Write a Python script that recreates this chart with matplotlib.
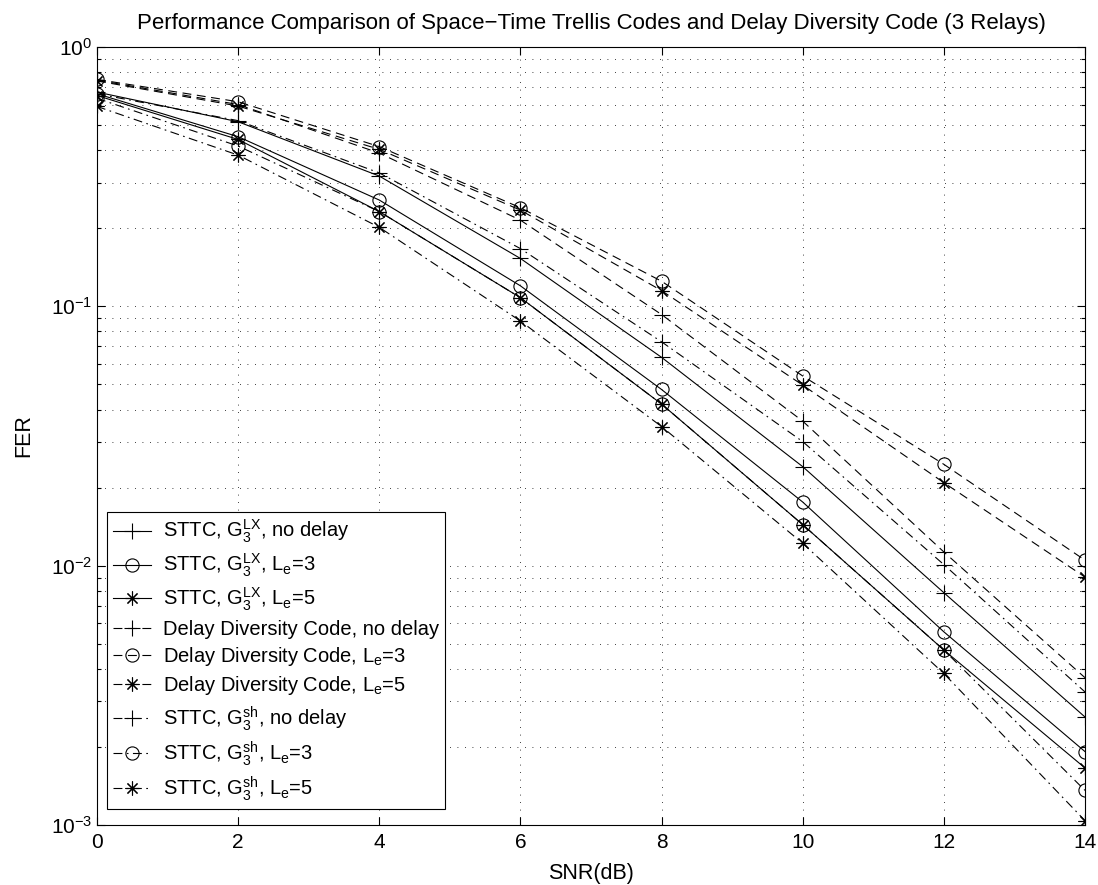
import numpy as np
import matplotlib
matplotlib.use("Agg")
import matplotlib.pyplot as plt

plt.rcParams['font.family'] = ['Liberation Sans', 'DejaVu Sans']
plt.rcParams['mathtext.fontset'] = 'custom'
plt.rcParams['mathtext.rm'] = 'Liberation Sans'
plt.rcParams['mathtext.default'] = 'regular'

snr = [0, 2, 4, 6, 8, 10, 12, 14]

# STTC, G3^LX (solid)
lx_nodelay = [0.67, 0.515, 0.318, 0.153, 0.0636, 0.0241, 0.00787, 0.00261]
lx_le3 = [0.66, 0.451, 0.257, 0.120, 0.0478, 0.0176, 0.00556, 0.00192]
lx_le5 = [0.65, 0.440, 0.232, 0.108, 0.0420, 0.0144, 0.00473, 0.00166]
# Delay Diversity Code (dashed)
ddc_nodelay = [0.745, 0.600, 0.390, 0.215, 0.0930, 0.0361, 0.0113, 0.0037]
ddc_le3 = [0.750, 0.615, 0.413, 0.240, 0.125, 0.0539, 0.0246, 0.0105]
ddc_le5 = [0.740, 0.592, 0.403, 0.235, 0.115, 0.0497, 0.0209, 0.00904]
# STTC, G3^sh (dash-dot)
sh_nodelay = [0.66, 0.520, 0.327, 0.167, 0.0730, 0.0301, 0.0101, 0.00326]
sh_le3 = [0.634, 0.415, 0.232, 0.108, 0.0420, 0.0144, 0.00473, 0.00136]
sh_le5 = [0.590, 0.383, 0.2017, 0.0878, 0.0344, 0.0122, 0.00384, 0.00104]

labels = [
    r"STTC, G$_3^{LX}$, no delay",
    r"STTC, G$_3^{LX}$, L$_e$=3",
    r"STTC, G$_3^{LX}$, L$_e$=5",
    "Delay Diversity Code, no delay",
    r"Delay Diversity Code, L$_e$=3",
    r"Delay Diversity Code, L$_e$=5",
    r"STTC, G$_3^{sh}$, no delay",
    r"STTC, G$_3^{sh}$, L$_e$=3",
    r"STTC, G$_3^{sh}$, L$_e$=5",
]
series = [lx_nodelay, lx_le3, lx_le5, ddc_nodelay, ddc_le3, ddc_le5,
          sh_nodelay, sh_le3, sh_le5]
styles = ["-"] * 3 + [(0, (8, 5))] * 3 + [(0, (8, 4, 1.5, 4))] * 3
asterisk = (8, 2, 0)  # MATLAB-like '*' = '+' and 'x' overlaid
markers = ["+", "o", asterisk] * 3
msizes = [11, 9.5, 10] * 3

fig = plt.figure(figsize=(10.98, 8.85), dpi=100)
ax = fig.add_axes([0.0883, 0.0678, 0.8998, 0.8791])

for y, ls, mk, ms, lb in zip(series, styles, markers, msizes, labels):
    ax.semilogy(snr, y, color="black", linestyle=ls, linewidth=0.8,
                marker=mk, markersize=ms, markerfacecolor="none",
                markeredgecolor="black", markeredgewidth=0.8, label=lb)

ax.set_xlim(0, 14)
ax.set_ylim(1e-3, 1)
ax.set_xticks(snr)
ax.grid(True, which="both", color="black", linestyle=(0, (1, 8)), linewidth=0.6)
ax.tick_params(which="both", direction="in", top=True, right=True, labelsize=15)
ax.tick_params(axis="x", pad=6)
ax.tick_params(which="major", length=6, width=0.8)
ax.tick_params(which="minor", length=3, width=0.8)
for s in ax.spines.values():
    s.set_linewidth(0.8)

ax.set_xlabel("SNR(dB)", fontsize=15.5, labelpad=8)
ax.set_ylabel("FER", fontsize=15.5, labelpad=12)
ax.set_title("Performance Comparison of Space\u2212Time Trellis Codes and Delay Diversity Code (3 Relays)",
             fontsize=16, pad=13)

leg = ax.legend(loc="lower left", bbox_to_anchor=(0.0101, 0.0206), borderaxespad=0,
                fontsize=14.5, fancybox=False, edgecolor="black", framealpha=1,
                handlelength=1.9, handletextpad=0.6, labelspacing=0.32, borderpad=0.3)
leg.get_frame().set_linewidth(0.8)

fig.savefig("out.png", dpi=100)
